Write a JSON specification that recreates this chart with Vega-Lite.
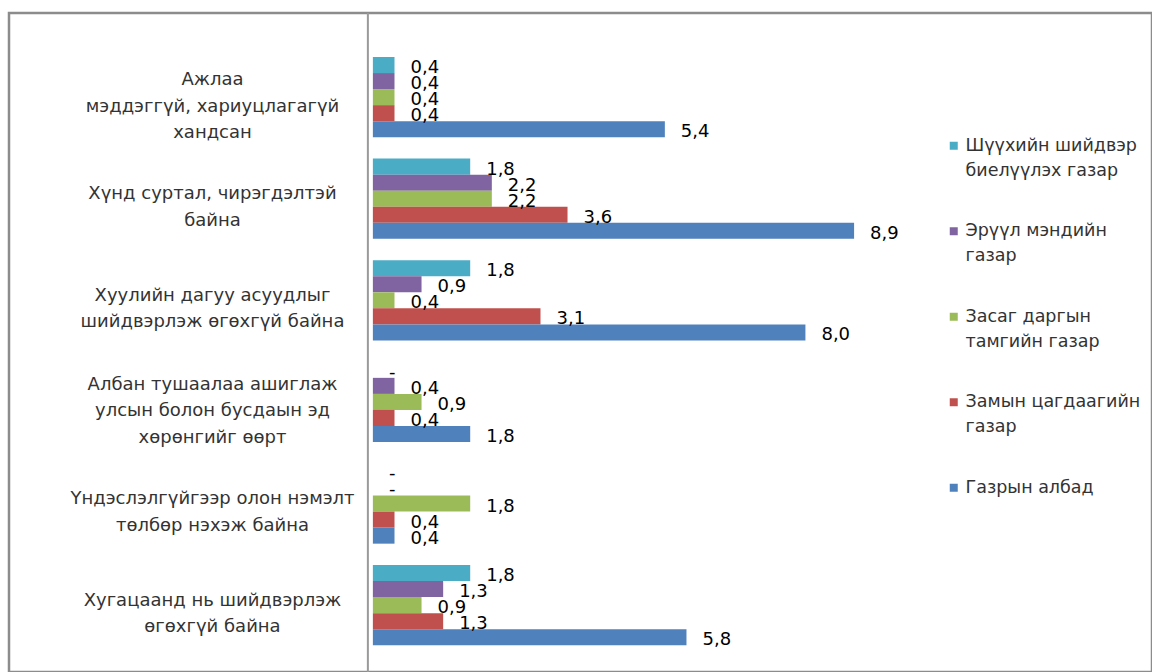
{
  "$schema": "https://vega.github.io/schema/vega-lite/v6.json",
  "width": 1143,
  "height": 659,
  "autosize": "none",
  "padding": {"left": 9, "top": 13, "right": 0, "bottom": 0},
  "background": "white",
  "config": {
    "view": {"stroke": "#8c8c8c", "strokeWidth": 2.5},
    "locale": {"number": {"decimal": ",", "thousands": " ", "grouping": [3], "currency": ["", ""]}},
    "font": "DejaVu Sans",
    "style": {"guide-label": {"lineHeight": 25}}
  },
  "data": {
    "values": [
      {"category": "Ажлаа\nмэддэггүй, хариуцлагагүй\nхандсан", "series": "Шүүхийн шийдвэр\nбиелүүлэх газар", "value": 0.4},
      {"category": "Ажлаа\nмэддэггүй, хариуцлагагүй\nхандсан", "series": "Эрүүл мэндийн\nгазар", "value": 0.4},
      {"category": "Ажлаа\nмэддэггүй, хариуцлагагүй\nхандсан", "series": "Засаг даргын\nтамгийн газар", "value": 0.4},
      {"category": "Ажлаа\nмэддэггүй, хариуцлагагүй\nхандсан", "series": "Замын цагдаагийн\nгазар", "value": 0.4},
      {"category": "Ажлаа\nмэддэггүй, хариуцлагагүй\nхандсан", "series": "Газрын албад", "value": 5.4},
      {"category": "Хүнд суртал, чирэгдэлтэй\nбайна", "series": "Шүүхийн шийдвэр\nбиелүүлэх газар", "value": 1.8},
      {"category": "Хүнд суртал, чирэгдэлтэй\nбайна", "series": "Эрүүл мэндийн\nгазар", "value": 2.2},
      {"category": "Хүнд суртал, чирэгдэлтэй\nбайна", "series": "Засаг даргын\nтамгийн газар", "value": 2.2},
      {"category": "Хүнд суртал, чирэгдэлтэй\nбайна", "series": "Замын цагдаагийн\nгазар", "value": 3.6},
      {"category": "Хүнд суртал, чирэгдэлтэй\nбайна", "series": "Газрын албад", "value": 8.9},
      {"category": "Хуулийн дагуу асуудлыг\nшийдвэрлэж өгөхгүй байна", "series": "Шүүхийн шийдвэр\nбиелүүлэх газар", "value": 1.8},
      {"category": "Хуулийн дагуу асуудлыг\nшийдвэрлэж өгөхгүй байна", "series": "Эрүүл мэндийн\nгазар", "value": 0.9},
      {"category": "Хуулийн дагуу асуудлыг\nшийдвэрлэж өгөхгүй байна", "series": "Засаг даргын\nтамгийн газар", "value": 0.4},
      {"category": "Хуулийн дагуу асуудлыг\nшийдвэрлэж өгөхгүй байна", "series": "Замын цагдаагийн\nгазар", "value": 3.1},
      {"category": "Хуулийн дагуу асуудлыг\nшийдвэрлэж өгөхгүй байна", "series": "Газрын албад", "value": 8.0},
      {"category": "Албан тушаалаа ашиглаж\nулсын болон бусдаын эд\nхөрөнгийг өөрт", "series": "Шүүхийн шийдвэр\nбиелүүлэх газар", "value": 0},
      {"category": "Албан тушаалаа ашиглаж\nулсын болон бусдаын эд\nхөрөнгийг өөрт", "series": "Эрүүл мэндийн\nгазар", "value": 0.4},
      {"category": "Албан тушаалаа ашиглаж\nулсын болон бусдаын эд\nхөрөнгийг өөрт", "series": "Засаг даргын\nтамгийн газар", "value": 0.9},
      {"category": "Албан тушаалаа ашиглаж\nулсын болон бусдаын эд\nхөрөнгийг өөрт", "series": "Замын цагдаагийн\nгазар", "value": 0.4},
      {"category": "Албан тушаалаа ашиглаж\nулсын болон бусдаын эд\nхөрөнгийг өөрт", "series": "Газрын албад", "value": 1.8},
      {"category": "Үндэслэлгүйгээр олон нэмэлт\nтөлбөр нэхэж байна", "series": "Шүүхийн шийдвэр\nбиелүүлэх газар", "value": 0},
      {"category": "Үндэслэлгүйгээр олон нэмэлт\nтөлбөр нэхэж байна", "series": "Эрүүл мэндийн\nгазар", "value": 0},
      {"category": "Үндэслэлгүйгээр олон нэмэлт\nтөлбөр нэхэж байна", "series": "Засаг даргын\nтамгийн газар", "value": 1.8},
      {"category": "Үндэслэлгүйгээр олон нэмэлт\nтөлбөр нэхэж байна", "series": "Замын цагдаагийн\nгазар", "value": 0.4},
      {"category": "Үндэслэлгүйгээр олон нэмэлт\nтөлбөр нэхэж байна", "series": "Газрын албад", "value": 0.4},
      {"category": "Хугацаанд нь шийдвэрлэж\nөгөхгүй байна", "series": "Шүүхийн шийдвэр\nбиелүүлэх газар", "value": 1.8},
      {"category": "Хугацаанд нь шийдвэрлэж\nөгөхгүй байна", "series": "Эрүүл мэндийн\nгазар", "value": 1.3},
      {"category": "Хугацаанд нь шийдвэрлэж\nөгөхгүй байна", "series": "Засаг даргын\nтамгийн газар", "value": 0.9},
      {"category": "Хугацаанд нь шийдвэрлэж\nөгөхгүй байна", "series": "Замын цагдаагийн\nгазар", "value": 1.3},
      {"category": "Хугацаанд нь шийдвэрлэж\nөгөхгүй байна", "series": "Газрын албад", "value": 5.8}
    ]
  },
  "layer": [
    {
      "data": {"values": [{"base": 0}]},
      "mark": {"type": "rule", "color": "#9a9a9a", "strokeWidth": 2, "xOffset": -5},
      "encoding": {
        "x": {"field": "base", "type": "quantitative", "scale": {"domain": [-6.73, 14.41], "nice": false, "zero": false}, "axis": null}
      }
    },
    {
      "mark": {"type": "bar"},
      "encoding": {
        "x": {"field": "value", "type": "quantitative", "scale": {"domain": [-6.73, 14.41], "nice": false, "zero": false}, "axis": null},
        "y": {
          "field": "category", "type": "nominal",
          "scale": {
            "domain": [
              "Ажлаа\nмэддэггүй, хариуцлагагүй\nхандсан",
              "Хүнд суртал, чирэгдэлтэй\nбайна",
              "Хуулийн дагуу асуудлыг\nшийдвэрлэж өгөхгүй байна",
              "Албан тушаалаа ашиглаж\nулсын болон бусдаын эд\nхөрөнгийг өөрт",
              "Үндэслэлгүйгээр олон нэмэлт\nтөлбөр нэхэж байна",
              "Хугацаанд нь шийдвэрлэж\nөгөхгүй байна"
            ],
            "paddingInner": 0.21, "paddingOuter": 0.348, "align": 0.622
          },
          "axis": {
            "title": null, "domain": false, "ticks": false, "grid": false,
            "orient": "left", "offset": -203,
            "labelAlign": "center", "labelBaseline": "middle", "labelPadding": 0,
            "labelOffset": {"condition": {"test": "length(split(datum.label, '\\n')) > 2", "value": -17}, "value": -4.5},
            "labelOverlap": false, "labelLimit": 400,
            "labelExpr": "split(datum.label, '\\n')",
            "labelFont": "DejaVu Sans", "labelFontSize": 18, "labelLineHeight": 26.5, "labelColor": "#333333"
          }
        },
        "yOffset": {
          "field": "series", "type": "nominal",
          "scale": {"domain": ["Шүүхийн шийдвэр\nбиелүүлэх газар", "Эрүүл мэндийн\nгазар", "Засаг даргын\nтамгийн газар", "Замын цагдаагийн\nгазар", "Газрын албад"], "paddingInner": 0, "paddingOuter": 0}
        },
        "color": {
          "field": "series", "type": "nominal",
          "scale": {
            "domain": ["Шүүхийн шийдвэр\nбиелүүлэх газар", "Эрүүл мэндийн\nгазар", "Засаг даргын\nтамгийн газар", "Замын цагдаагийн\nгазар", "Газрын албад"],
            "range": ["#4BACC6", "#8064A2", "#9BBB59", "#C0504D", "#4F81BD"]
          },
          "legend": {
            "title": null, "orient": "none", "legendX": 936, "legendY": 124,
            "symbolType": "square", "symbolSize": 64, "symbolStrokeWidth": 0,
            "labelExpr": "split(datum.label, '\\n')",
            "labelFont": "DejaVu Sans", "labelFontSize": 17.5,
            "labelColor": "#333333", "labelLimit": 300, "labelOffset": 3,
            "rowPadding": 41.5, "labelBaseline": "middle"
          }
        }
      }
    },
    {
      "mark": {"type": "text", "align": "left", "baseline": "middle", "dx": 16, "dy": 3, "fontSize": 18, "color": "#000000", "font": "DejaVu Sans"},
      "encoding": {
        "x": {"field": "value", "type": "quantitative"},
        "y": {"field": "category", "type": "nominal"},
        "yOffset": {"field": "series", "type": "nominal"},
        "text": {"condition": {"test": "datum.value == 0", "value": "-"}, "field": "value", "type": "quantitative", "format": ".1f"}
      }
    }
  ]
}
